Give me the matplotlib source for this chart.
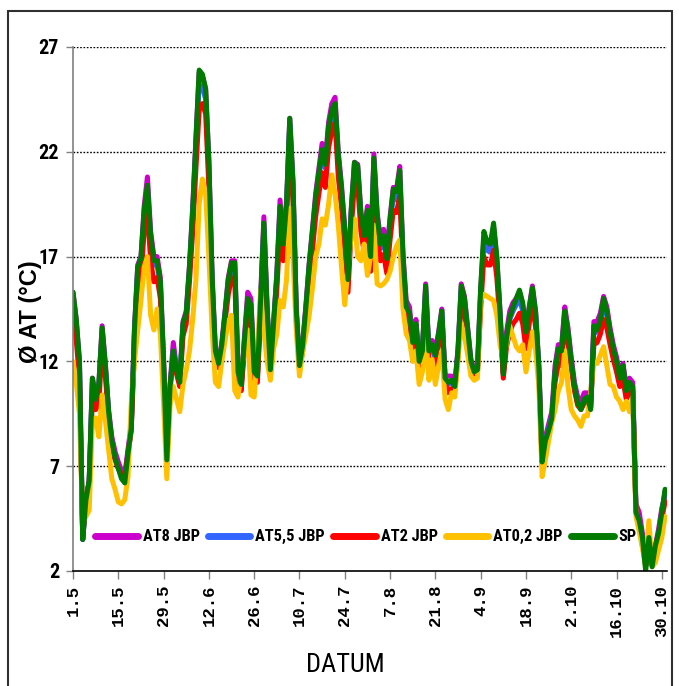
import matplotlib
matplotlib.use("Agg")
import matplotlib.pyplot as plt
from matplotlib.patches import Rectangle

# Daily mean air temperature, 1 May - 31 Oct
sp = [15.3, 14.0, 12.0, 3.5, 5.4, 6.3, 11.2, 10.2, 10.9, 13.6,
      11.8, 9.6, 8.2, 7.4, 6.9, 6.4, 6.2, 7.6, 8.8, 13.5,
      16.5, 16.9, 19.2, 20.4, 18.0, 16.8, 16.8, 15.8, 12.0, 7.3,
      10.8, 12.5, 11.6, 11.0, 13.8, 14.3, 16.5, 19.2, 22.5, 25.9,
      25.7, 25.0, 21.5, 16.0, 12.5, 11.9, 12.8, 14.3, 15.9, 16.7,
      16.7, 11.5, 10.9, 13.0, 15.0, 14.7, 11.5, 11.3, 15.0, 18.6,
      14.5, 11.6, 13.8, 16.1, 19.4, 17.6, 19.5, 23.6, 20.5, 14.5,
      11.8, 12.8, 14.6, 16.6, 18.2, 19.8, 21.0, 22.1, 21.4, 23.2,
      24.0, 24.3, 21.8, 20.2, 18.2, 15.9, 19.2, 21.5, 21.3, 19.0,
      18.0, 19.2, 17.0, 21.7, 19.0, 17.6, 18.0, 16.9, 18.7, 20.2,
      20.1, 21.1, 17.0, 14.6, 14.3, 12.9, 13.8, 12.0, 12.5, 15.6,
      12.5, 12.8, 12.3, 13.3, 14.4, 11.2, 11.0, 11.1, 10.8, 12.5,
      15.6, 15.0, 13.5, 12.0, 11.5, 11.6, 15.5, 18.2, 17.7, 17.6,
      18.6, 17.0, 14.3, 11.4, 13.1, 14.1, 14.6, 15.0, 15.4, 14.8,
      13.4, 14.5, 15.5, 14.3, 11.7, 7.2, 8.2, 8.7, 9.3, 11.5,
      12.6, 12.5, 14.4, 13.4, 12.0, 10.8, 10.0, 9.7, 10.2, 10.3,
      9.7, 13.7, 13.5, 14.0, 15.0, 14.4, 13.4, 12.6, 12.0, 11.2,
      11.8, 10.6, 11.0, 10.8, 4.8, 4.4, 3.6, 2.0, 3.6, 2.2,
      3.2, 3.8, 4.8, 5.9]

at8 = [15.3, 14.0, 12.0, 3.5, 5.4, 6.3, 11.2, 10.3, 11.0, 13.7,
       11.9, 9.7, 8.4, 7.7, 7.2, 6.8, 6.6, 7.8, 9.0, 13.6,
       16.6, 17.0, 19.4, 20.8, 18.2, 17.0, 17.0, 16.0, 12.1, 7.4,
       10.9, 12.9, 11.7, 11.1, 13.9, 14.4, 16.6, 19.4, 22.7, 25.8,
       25.6, 25.0, 21.6, 16.1, 12.6, 12.0, 12.9, 14.4, 16.0, 16.8,
       16.8, 11.6, 11.0, 13.2, 15.3, 15.0, 11.6, 11.4, 15.2, 18.9,
       14.6, 11.7, 13.9, 16.2, 19.7, 17.7, 19.6, 23.6, 20.6, 14.6,
       11.9, 12.9, 14.7, 16.7, 18.3, 20.0, 21.2, 22.4, 21.6, 23.4,
       24.3, 24.6, 22.0, 20.4, 18.4, 16.0, 19.3, 21.5, 21.4, 19.1,
       18.1, 19.4, 17.1, 21.9, 19.1, 17.9, 18.3, 17.1, 18.9, 20.3,
       20.2, 21.3, 17.1, 14.9, 14.6, 13.0, 14.0, 12.1, 12.7, 15.7,
       12.6, 13.0, 12.5, 13.4, 14.5, 11.3, 11.3, 11.3, 10.9, 12.6,
       15.7, 15.1, 13.6, 12.1, 11.6, 11.7, 15.4, 17.9, 17.5, 17.5,
       18.4, 16.9, 14.4, 11.5, 13.4, 14.4, 14.8, 15.0, 15.3, 14.7,
       13.4, 14.6, 15.6, 14.4, 11.8, 7.3, 8.4, 9.0, 9.6, 11.8,
       12.8, 12.7, 14.6, 13.6, 12.2, 11.0, 10.3, 10.1, 10.5, 10.5,
       10.0, 13.9, 13.9, 14.3, 15.1, 14.6, 13.6, 12.8, 12.2, 11.4,
       11.9, 10.8, 11.2, 11.0, 5.2, 4.8, 3.8, 2.6, 3.4, 2.5,
       3.2, 4.0, 5.0, 5.6]

at55 = [14.9, 13.7, 11.8, 3.5, 5.4, 6.3, 11.0, 10.1, 10.7, 13.4,
        11.7, 9.5, 8.2, 7.4, 6.9, 6.5, 6.3, 7.6, 8.8, 13.3,
        16.3, 16.7, 19.0, 20.2, 17.8, 16.6, 16.6, 15.6, 11.9, 7.3,
        10.8, 12.5, 11.6, 11.0, 13.7, 14.2, 16.3, 19.0, 22.2, 25.2,
        25.1, 24.5, 21.0, 15.8, 12.4, 11.8, 12.7, 14.2, 15.7, 16.5,
        16.5, 11.4, 10.8, 12.9, 14.8, 14.5, 11.4, 11.2, 14.8, 18.4,
        14.4, 11.6, 13.7, 15.9, 19.2, 17.4, 19.3, 23.3, 20.3, 14.4,
        11.8, 12.7, 14.5, 16.4, 18.0, 19.6, 20.8, 21.9, 21.2, 23.0,
        23.8, 24.1, 21.6, 20.0, 18.0, 15.8, 19.0, 21.2, 21.1, 18.8,
        17.8, 19.0, 16.8, 21.5, 18.8, 17.4, 17.8, 16.7, 18.4, 19.9,
        19.7, 20.6, 16.8, 14.4, 14.2, 12.8, 13.6, 11.9, 12.4, 15.4,
        12.4, 12.6, 12.1, 13.2, 14.3, 11.2, 10.9, 11.0, 10.8, 12.4,
        15.4, 14.8, 13.4, 11.9, 11.5, 11.5, 15.1, 17.7, 17.3, 17.2,
        18.0, 16.6, 14.1, 11.4, 13.1, 14.0, 14.4, 14.7, 15.0, 14.4,
        13.1, 14.3, 15.4, 14.1, 11.6, 7.2, 8.2, 8.8, 9.4, 11.4,
        12.4, 12.3, 14.3, 13.3, 11.9, 10.8, 10.0, 9.8, 10.2, 10.3,
        9.8, 13.4, 13.4, 13.8, 14.7, 14.2, 13.2, 12.5, 11.9, 11.1,
        11.6, 10.5, 10.9, 10.7, 4.9, 4.4, 3.5, 2.2, 3.2, 2.3,
        3.0, 3.7, 4.8, 5.8]

at2 = [14.0, 13.0, 11.2, 3.6, 5.5, 6.2, 10.2, 9.7, 10.0, 12.8,
       11.3, 9.3, 8.0, 7.3, 6.9, 6.6, 6.4, 7.6, 8.7, 12.6,
       15.5, 16.0, 18.2, 19.2, 16.8, 15.8, 16.0, 15.0, 11.6, 7.2,
       10.6, 12.3, 11.4, 10.8, 13.2, 13.8, 15.8, 18.2, 21.2, 24.0,
       24.3, 23.8, 20.3, 15.3, 12.2, 11.7, 12.5, 13.9, 15.2, 16.0,
       15.9, 11.2, 10.6, 12.6, 14.4, 14.1, 11.1, 11.0, 14.3, 17.6,
       14.0, 11.4, 13.3, 15.4, 18.3, 16.8, 18.7, 22.6, 19.6, 14.0,
       11.6, 12.5, 14.0, 15.8, 17.3, 18.9, 20.0, 21.0, 20.3, 22.2,
       23.0, 23.4, 20.8, 19.3, 17.4, 15.3, 18.3, 20.5, 20.4, 18.2,
       17.2, 18.4, 16.3, 20.8, 18.1, 16.8, 17.1, 16.2, 17.8, 19.2,
       19.1, 19.9, 16.2, 14.1, 13.9, 12.5, 13.2, 11.7, 12.1, 14.9,
       12.0, 12.1, 11.7, 12.9, 13.9, 11.0, 10.5, 10.7, 10.6, 12.2,
       14.9, 14.4, 13.1, 11.8, 11.4, 11.4, 14.5, 17.0, 16.6, 16.6,
       17.3, 16.0, 13.8, 11.2, 12.7, 13.4, 13.8, 14.0, 14.3, 13.8,
       12.6, 13.8, 14.8, 13.6, 11.3, 7.1, 8.0, 8.6, 9.2, 11.0,
       11.9, 11.8, 13.9, 12.9, 11.7, 10.6, 9.9, 9.7, 10.0, 10.1,
       9.8, 12.8, 12.9, 13.3, 14.0, 13.6, 12.8, 12.1, 11.5, 10.8,
       11.1, 10.2, 10.5, 10.6, 4.9, 4.3, 3.2, 2.4, 2.4, 2.3,
       2.8, 3.5, 4.5, 5.3]

at02 = [12.0, 11.0, 9.5, 4.3, 4.6, 4.9, 9.2, 9.3, 8.4, 10.4,
        9.2, 7.8, 6.4, 5.9, 5.3, 5.2, 5.4, 6.5, 10.0, 12.0,
        13.5, 14.9, 16.5, 17.0, 14.2, 13.5, 14.5, 13.3, 10.0, 6.4,
        9.9, 10.8, 10.2, 9.6, 10.9, 11.6, 12.5, 14.0, 15.9, 19.5,
        20.7, 20.0, 17.0, 13.5, 11.0, 10.8, 12.0, 13.0, 13.9, 14.2,
        10.6, 10.3, 11.5, 12.5, 13.5, 10.4, 10.3, 12.5, 15.4, 13.5,
        12.0, 11.1, 12.6, 13.3, 14.9, 14.6, 15.9, 19.3, 17.0, 13.5,
        11.3, 12.5, 13.3, 14.2, 15.5, 17.0, 17.6, 18.8, 18.5, 19.5,
        20.9, 20.0, 18.5, 16.5, 14.7, 16.5, 18.0, 18.8, 17.0, 16.8,
        17.6, 16.1, 17.0, 18.5, 15.7, 15.6, 15.7, 15.9, 16.3, 17.0,
        17.5, 17.8, 14.5, 13.3, 13.0, 12.0, 12.5, 10.9, 11.5, 13.3,
        11.1, 12.1, 10.9, 11.8, 12.5, 10.2, 9.7, 10.5, 10.3, 12.1,
        13.8, 13.2, 12.3, 11.3, 11.1, 11.2, 14.9, 15.2, 15.1, 15.0,
        14.9, 14.2, 12.8, 12.1, 12.8, 13.7, 13.2, 12.7, 12.5, 12.8,
        11.5, 12.5, 13.4, 12.5, 10.8, 6.5, 7.3, 8.2, 9.1, 9.7,
        10.6, 11.0, 12.5, 10.8, 9.7, 9.4, 9.2, 8.9, 9.4, 9.4,
        10.5, 12.0, 11.9, 12.3, 12.7, 11.8, 10.9, 10.8, 10.3, 10.1,
        9.7, 10.1, 9.6, 10.3, 4.6, 3.9, 3.1, 2.2, 4.4, 2.2,
        2.4, 3.0, 3.6, 4.6]

series_names = ["AT8 JBP", "AT5,5 JBP", "AT2 JBP", "AT0,2 JBP", "SP"]
series_colors = ["#CC00CC", "#3366FF", "#FF0000", "#FFC000", "#007A00"]

tick_days = [0, 14, 28, 42, 56, 70, 84, 98, 112, 126, 140, 154, 168, 182]
tick_labels = ["1.5", "15.5", "29.5", "12.6", "26.6", "10.7", "24.7",
               "7.8", "21.8", "4.9", "18.9", "2.10", "16.10", "30.10"]
y_ticks = [2, 7, 12, 17, 22, 27]

narrow = ["Roboto Condensed", "Liberation Sans Narrow", "Liberation Sans", "DejaVu Sans"]

W, H = 679, 686
fig = plt.figure(figsize=(W / 100, H / 100), dpi=100)
ax = fig.add_axes([73 / W, 1 - 571 / H, 594 / W, 524 / H])

days = list(range(len(sp)))
for vals, name, col in zip([at8, at55, at2, at02, sp], series_names, series_colors):
    ax.plot(days, vals, color=col, lw=3.6, label=name, solid_joinstyle="round",
            solid_capstyle="round")

ax.set_xlim(0, 183.6)
ax.set_ylim(2, 27)
ax.set_yticks(y_ticks)
ax.set_yticklabels([str(v) for v in y_ticks], family=narrow, fontweight="bold",
                   fontsize=14.5)
ax.set_xticks(tick_days)
ax.set_xticklabels(tick_labels, rotation=90, family=["Liberation Mono", "DejaVu Sans Mono"],
                   fontweight="bold", fontsize=12.5, va="top")
ax.tick_params(axis="y", direction="out", length=5, width=1, color="#808080", pad=5)
ax.tick_params(axis="x", direction="out", length=6, width=1, color="#808080", pad=4)

for v in y_ticks[1:]:
    ax.axhline(v, color="black", lw=1.0, ls=(0, (1.2, 1.2)), zorder=0)

for s in ["top", "right"]:
    ax.spines[s].set_visible(False)
ax.spines["left"].set_color("#808080")
ax.spines["left"].set_linewidth(1.2)
ax.spines["bottom"].set_color("black")
ax.spines["bottom"].set_linewidth(1.2)

leg = ax.legend(ncol=5, loc="center", bbox_to_anchor=(0.493, 0.065), frameon=False,
                handlelength=2.6, handletextpad=0.3, columnspacing=0.5,
                prop={"family": narrow, "weight": "bold", "size": 11.8})
for ln in leg.get_lines():
    ln.set_linewidth(5)

fig.text(30 / W, 1 - 312 / H, "Ø AT (°C)", rotation=90, ha="center", va="center",
         fontsize=17, fontweight="bold", family=["Liberation Sans", "DejaVu Sans"])
fig.text(345 / W, 1 - 665 / H, "DATUM", ha="center", va="center",
         fontsize=19, family=narrow)

fig.patches.append(Rectangle((8 / W, -0.02), 664 / W, 1.02 - 11 / H,
                             transform=fig.transFigure, fill=False,
                             edgecolor="#303030", lw=1.5))

fig.savefig("out.png", dpi=100)
